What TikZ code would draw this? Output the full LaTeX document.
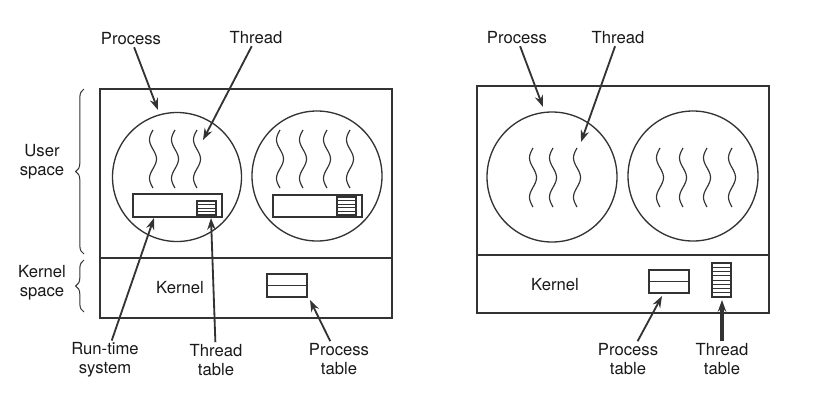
\documentclass[tikz,border=0pt]{standalone}
\usepackage{fontspec}
\setmainfont{TeX Gyre Heros}
\usetikzlibrary{arrows.meta,decorations.pathreplacing}
\begin{document}
\begin{tikzpicture}[x=0.6pt,y=-0.6pt,
    box/.style={draw=black!80,line width=0.8pt},
    ptr/.style={draw=black!80,line width=1.1pt,-{Stealth[length=7pt,width=5pt]}},
    lbl/.style={font=\fontsize{10}{11.5}\selectfont,align=center,text=black!90,inner sep=1pt},
    thread/.style={draw=black!80,line width=0.7pt}]
  \useasboundingbox (0,0) rectangle (831,404);
  % left: threads in user space
  \draw[box] (100,89) rectangle (392,318);
  \draw[box] (100,258) -- (392,258);
  \draw[box] (177,177) circle (64.5);
  \draw[box] (317,176) circle (65);
  \foreach \sx in {153,175,197}
    \draw[thread] plot[smooth,domain=0:58,samples=30] ({\sx-3.5*sin(\x*9.31)},{130+\x});
  \foreach \sx in {280,303,327,350}
    \draw[thread] plot[smooth,domain=0:58,samples=30] ({\sx-3.5*sin(\x*9.31)},{130+\x});
  \draw[box] (133,194) rectangle (222,217);
  \draw[box] (197,201) rectangle (216,215);
  \foreach \k in {1,2,3}
    \draw[box,line width=0.6pt] (197,201+\k*3.5) -- (216,201+\k*3.5);
  \draw[box] (273,195) rectangle (362,217);
  \draw[box] (337,197) rectangle (356,215);
  \foreach \k in {1,...,4}
    \draw[box,line width=0.6pt] (337,197+\k*3.6) -- (356,197+\k*3.6);
  \draw[box] (267,274) rectangle (307,297);
  \draw[box] (267,285.5) -- (307,285.5);
  \draw[box,line width=0.6pt,decorate,decoration={brace,amplitude=5pt}] (84,254) -- (84,89);
  \draw[box,line width=0.6pt,decorate,decoration={brace,amplitude=5pt}] (84,312) -- (84,260);
  \node[lbl] (us) at (42,162) {User\\space};
  \node[lbl] (ks) at (42,283) {Kernel\\space};
  \node[lbl] (k1) at (180,288) {Kernel};
  \node[lbl] (p1) at (131,39) {Process};
  \node[lbl] (t1) at (256,38) {Thread};
  \node[lbl] (rt) at (105,360) {Run-time\\system};
  \node[lbl] (tt1) at (216,360) {Thread\\table};
  \node[lbl] (pt1) at (339,359) {Process\\table};
  \coordinate (p1e) at (158,110);
  \coordinate (t1e) at (203,140);
  \coordinate (rte) at (154,218);
  \coordinate (tt1e) at (211,218);
  \coordinate (pt1e) at (310,300);
  \begin{scope}[ptr]
    \draw (p1) -- (p1e);
    \draw (t1) -- (t1e);
    \draw (rt) -- (rte);
    \draw (tt1) -- (tt1e);
    \draw (pt1) -- (pt1e);
  \end{scope}
  % right: threads in the kernel
  \draw[box] (477,86) rectangle (769,313);
  \draw[box] (477,255) -- (769,255);
  \draw[box] (552,177) circle (65);
  \draw[box] (693,176) circle (65);
  \foreach \sx in {533,553,577}
    \draw[thread] plot[smooth,domain=0:59,samples=30] ({\sx-3.5*sin(\x*9.15)},{148+\x});
  \foreach \sx in {660,683,707,732}
    \draw[thread] plot[smooth,domain=0:59,samples=30] ({\sx-3.5*sin(\x*9.15)},{148+\x});
  \draw[box] (649,270) rectangle (689,293);
  \draw[box] (649,281.5) -- (689,281.5);
  \draw[box] (712,263) rectangle (731,297);
  \foreach \k in {1,...,7}
    \draw[box,line width=0.6pt] (712,263+\k*4.25) -- (731,263+\k*4.25);
  \node[lbl] (k2) at (555,285) {Kernel};
  \node[lbl] (p2) at (517,38) {Process};
  \node[lbl] (t2) at (618,38) {Thread};
  \node[lbl] (pt2) at (628,359) {Process\\table};
  \node[lbl] (tt2) at (722,359) {Thread\\table};
  \coordinate (p2e) at (543,107);
  \coordinate (t2e) at (581,142);
  \coordinate (pt2e) at (662,296);
  \coordinate (tt2e) at (722,300);
  \begin{scope}[ptr]
    \draw (p2) -- (p2e);
    \draw (t2) -- (t2e);
    \draw (pt2) -- (pt2e);
    \draw[line width=2pt] (tt2) -- (tt2e);
  \end{scope}
\end{tikzpicture}
\end{document}
